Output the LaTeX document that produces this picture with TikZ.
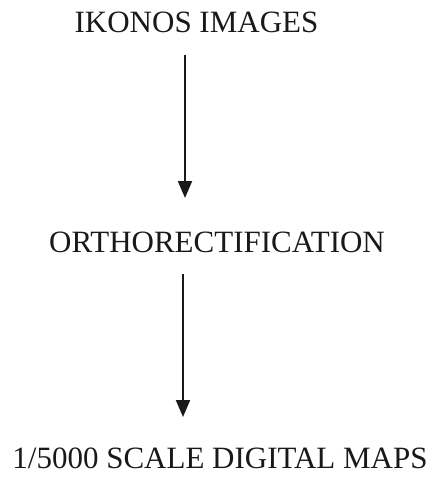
\documentclass[tikz,border=0pt]{standalone}
\usepackage{fontspec}
\setmainfont{Liberation Serif}
\usetikzlibrary{arrows.meta}
\tikzset{
  lbl/.style={anchor=base, inner sep=0pt, text=black!90, font=\fontsize{31}{36}\selectfont},
  flow/.style={line width=2pt, draw=black!90, -{Triangle[length=17pt,width=14pt]}}
}
\begin{document}
\begin{tikzpicture}[x=1pt,y=1pt]
  \useasboundingbox (0,0) rectangle (433,-481);
  \node[lbl] (ikonos) at (196.5,-33) {IKONOS IMAGES};
  \node[lbl] (ortho) at (217,-252) {ORTHORECTIFICATION};
  \node[lbl] (maps) at (220,-468) {1/5000 SCALE DIGITAL MAPS};
  \coordinate (a1s) at (185,-55);
  \coordinate (a1e) at (185,-198);
  \coordinate (a2s) at (183,-274);
  \coordinate (a2e) at (183,-417);
  \draw[flow] (a1s) -- (a1e);
  \draw[flow] (a2s) -- (a2e);
\end{tikzpicture}
\end{document}
